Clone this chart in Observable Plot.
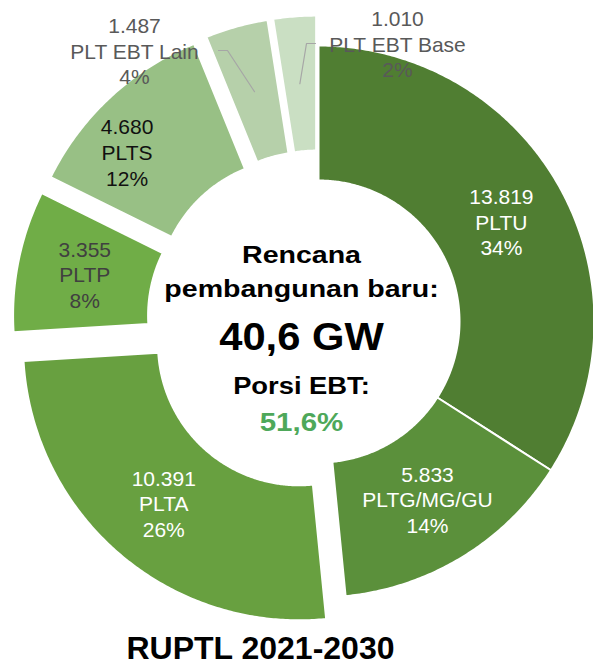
<!DOCTYPE html>
<html>
<head>
<meta charset="utf-8">
<script src="https://cdn.jsdelivr.net/npm/d3@7"></script>
<script src="https://cdn.jsdelivr.net/npm/@observablehq/plot@0.6"></script>
<style>
  html, body { margin: 0; padding: 0; background: #fff; }
  #chart svg { display: block; }
</style>
</head>
<body>
<div id="chart"></div>
<script>
// ---------- data ----------
const categories = ["PLTU", "PLTG/MG/GU", "PLTA", "PLTP", "PLTS", "PLT EBT Lain", "PLT EBT Base"];
const values = [13819, 5833, 10391, 3355, 4680, 1487, 1010];
const ebtCategories = ["PLTA", "PLTP", "PLTS", "PLT EBT Lain", "PLT EBT Base"];
const centerHeading = ["Rencana", "pembangunan baru:"];
const porsiHeading = "Porsi EBT:";
const chartTitle = "RUPTL 2021-2030";

// ---------- styles ----------
const sliceColors = ["#507e32", "#5b903b", "#68a040", "#70ad47", "#98c085", "#b6d0aa", "#cadfc3"];
const labelColors = ["#ffffff", "#ffffff", "#ffffff", "#404040", "#111111", "#595959", "#595959"];
const FONT = "Liberation Sans, Arial, Helvetica, sans-serif";

// ---------- layout ----------
const W = 593, H = 664;
const CX = 318, CY = 321;      // pie centre in pixels
const R = 276, RIN = 141;      // outer / inner radius
const EXPLODE = 30;
const exploded = new Set(["PLTA", "PLTP", "PLTS", "PLT EBT Lain", "PLT EBT Base"]);
const labelNudge = {"PLTS": [-29, 5]};
const outsideLabels = {
  "PLT EBT Lain": {at: [-184, -271], elbow: [-91, -271], end: [-100, -271]},
  "PLT EBT Base": {at: [79, -278], elbow: [-12, -278], end: [-3, -278]}
};

// ---------- derived ----------
const idLocale = d3.formatLocale({decimal: ",", thousands: ".", grouping: [3], currency: ["Rp", ""]});
const fmtInt = idLocale.format(",d");
const fmt1 = idLocale.format(".1f");
const total = d3.sum(values);
const ebtTotal = d3.sum(categories.map((c, i) => ebtCategories.includes(c) ? values[i] : 0));

const data = categories.map((name, i) => ({name, value: values[i], labelColor: labelColors[i]}));
const arcs = d3.pie().sort(null).value(d => d.value)(data);
const polar = (rad, a) => [rad * Math.sin(a), -rad * Math.cos(a)];

const features = [];
const labels = [];
const leaders = [];
for (const a of arcs) {
  const name = a.data.name;
  const off = exploded.has(name) ? EXPLODE : 0;
  const mid = (a.startAngle + a.endAngle) / 2;
  const [ox, oy] = polar(off, mid);
  const n = Math.max(8, Math.ceil((a.endAngle - a.startAngle) / (Math.PI / 360)));
  const ring = [];
  for (let i = 0; i <= n; i++) {
    const t = a.startAngle + (a.endAngle - a.startAngle) * i / n;
    const [x, y] = polar(R, t);
    ring.push([ox + x, oy + y]);
  }
  for (let i = n; i >= 0; i--) {
    const t = a.startAngle + (a.endAngle - a.startAngle) * i / n;
    const [x, y] = polar(RIN, t);
    ring.push([ox + x, oy + y]);
  }
  ring.push(ring[0]);
  features.push({type: "Feature", properties: {name}, geometry: {type: "Polygon", coordinates: [ring]}});

  const [cx, cy] = polar((R + RIN) / 2 + off, mid);
  const text = `${fmtInt(a.data.value)}\n${name}\n${Math.round(a.data.value / total * 100)}%`;
  if (outsideLabels[name]) {
    const o = outsideLabels[name];
    labels.push({x: o.at[0], y: o.at[1], text, color: a.data.labelColor});
    leaders.push({name, x: cx, y: cy});
    leaders.push({name, x: o.elbow[0], y: o.elbow[1]});
    leaders.push({name, x: o.end[0], y: o.end[1]});
  } else {
    const nudge = labelNudge[name] || [0, 0];
    labels.push({x: cx + nudge[0], y: cy + nudge[1], text, color: a.data.labelColor});
  }
}

const centerLines = [
  {text: centerHeading[0], y: -59, size: 24, color: "#000000", stretch: 1.19},
  {text: centerHeading[1], y: -25, size: 24, color: "#000000", stretch: 1.19},
  {text: `${fmt1(total / 1000)} GW`, y: 28, size: 39, color: "#000000", stretch: 1.07},
  {text: porsiHeading, y: 72, size: 24, color: "#000000", stretch: 1.14},
  {text: `${fmt1(ebtTotal / total * 100)}%`, y: 109, size: 25, color: "#4ea85a", stretch: 1.18}
];

const labelColorGroups = d3.groups(labels, d => d.color);

const chart = Plot.plot({
  width: W,
  height: H,
  margin: 0,
  style: {fontFamily: FONT, background: "#fff"},
  projection: d3.geoIdentity().translate([CX, CY]),
  color: {type: "ordinal", domain: categories, range: sliceColors},
  marks: [
    Plot.geo(features, {fill: d => d.properties.name, stroke: "white", strokeWidth: 2}),
    Plot.line(leaders, {x: "x", y: "y", z: "name", stroke: "#a6a6a6", strokeWidth: 1.2}),
    ...labelColorGroups.map(([color, rows]) =>
      Plot.text(rows, {x: "x", y: "y", text: "text", fill: color, fontSize: 21, lineHeight: 1.22,
                       fontFamily: FONT, textAnchor: "middle", lineAnchor: "middle"})),
    ...centerLines.map(c =>
      Plot.text([c], {x: () => -17, y: "y", text: "text", fill: c.color, fontSize: c.size,
                      fontWeight: "bold", fontFamily: FONT, textAnchor: "middle", lineAnchor: "bottom"})),
    Plot.text([chartTitle], {x: () => -58, y: () => 337, text: d => d, fill: "#000", fontSize: 32,
                             fontWeight: "bold", fontFamily: FONT, textAnchor: "middle", lineAnchor: "bottom"})
  ]
});

// horizontal stretch of the centre text (the reference uses a widened face)
const stretchBy = new Map(centerLines.map(c => [c.text, c.stretch]));
chart.querySelectorAll("text").forEach(el => {
  const s = stretchBy.get(el.textContent);
  if (!s) return;
  const x = +(el.getAttribute("x") || 0), y = +(el.getAttribute("y") || 0);
  const t = el.getAttribute("transform") || "";
  el.removeAttribute("x"); el.removeAttribute("y");
  el.setAttribute("transform", `${t} translate(${x},${y}) scale(${s},1)`.trim());
});

document.getElementById("chart").appendChild(chart);
</script>
</body>
</html>
